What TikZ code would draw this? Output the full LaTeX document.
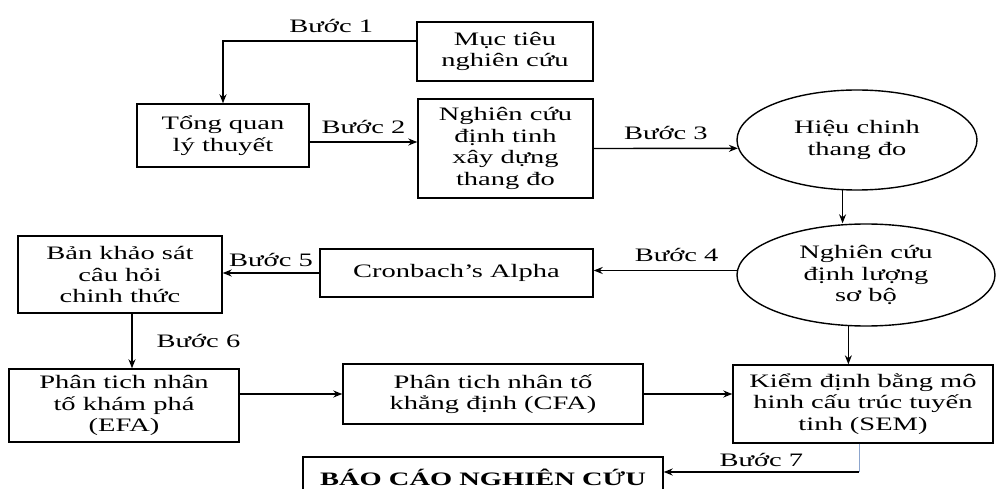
\documentclass[tikz,border=0pt]{standalone}
\usepackage{fontspec}
\setmainfont{Liberation Serif}[FakeStretch=1.5]
\usetikzlibrary{shapes.geometric,arrows.meta}

\begin{document}
\begin{tikzpicture}[x=1pt,y=-1pt,>={Stealth[length=9pt,width=7pt]},line width=1.4pt,
  txt/.style={font=\fontsize{19}{21.5}\selectfont},
  box/.style={rectangle,draw,align=center,inner sep=1pt,txt},
  oval/.style={ellipse,draw,align=center,inner sep=1pt,txt},
  buoc/.style={txt,inner sep=2pt},
  blueline/.style={draw={rgb,255:red,140;green,165;blue,205},line width=1pt}]
  \useasboundingbox (0,0) rectangle (997,489);
  \clip (0,0) rectangle (997,489);
  % boxes and ovals
  \node[box,minimum width=176pt,minimum height=59pt] (muc) at (505,51.5) {Mục tiêu\\nghiên cứu};
  \node[box,minimum width=172pt,minimum height=63pt] (tong) at (223,135.5) {Tổng quan\\lý thuyết};
  \node[box,minimum width=175pt,minimum height=99pt] (nc) at (505.5,148.5) {Nghiên cứu\\định tinh\\xây dựng\\thang đo};
  \node[oval,minimum width=240pt,minimum height=100pt] (hieu) at (857,140) {Hiệu chinh\\thang đo};
  \node[oval,minimum width=258pt,minimum height=102pt] (dl) at (866,275) {Nghiên cứu\\định lượng\\sơ bộ};
  \node[box,minimum width=273pt,minimum height=48pt] (cron) at (456.5,273) {Cronbach’s Alpha};
  \node[box,minimum width=204pt,minimum height=77pt] (ban) at (120,274.5) {Bản khảo sát\\câu hỏi\\chinh thức};
  \node[box,minimum width=230pt,minimum height=73pt] (efa) at (124,405.5) {Phân tich nhân\\tố khám phá\\(EFA)};
  \node[box,minimum width=300pt,minimum height=60pt] (cfa) at (493,394) {Phân tich nhân tố\\khẳng định (CFA)};
  \node[box,minimum width=260pt,minimum height=78pt] (sem) at (863,404) {Kiểm định bằng mô\\hinh cấu trúc tuyến\\tinh (SEM)};
  \node[box,minimum width=360pt,minimum height=40pt,font=\fontsize{19}{22}\selectfont\bfseries] (bao) at (483,477) {BÁO CÁO NGHIÊN CỨU};
  % steps
  \draw[->] ([yshift=10.5pt]muc.west) -| (tong.north) node[buoc,pos=0.22,above=6pt] {Bước 1};
  \draw[->] ([yshift=-6.5pt]tong.east) -- ([yshift=-6.5pt]tong.east -| nc.west) node[buoc,midway,above=6pt] {Bước 2};
  \draw[->] (nc.east) -- (hieu.184) node[buoc,midway,above=6pt] {Bước 3};
  \draw[->] (hieu.254) -- (hieu.254 |- dl.north);
  \draw[->] (dl.178) -- (dl.178 -| cron.east) node[buoc,pos=0.42,above=6pt] {Bước 4};
  \draw[->] (cron.west) -- (cron.west -| ban.east) node[buoc,midway,above=4pt] {Bước 5};
  \draw[->] ([xshift=12pt]ban.south) -- ([xshift=12pt]ban.south |- efa.north) node[buoc,midway,right=22pt] {Bước 6};
  \draw[->] (cfa.west -| efa.east) -- (cfa.west);
  \draw[->] (cfa.east) -- (cfa.east -| sem.west);
  \draw[->] (dl.251) -- (dl.251 |- sem.north);
  \coordinate (c7) at (859,472);
  \draw[blueline] (c7 |- sem.south) -- (c7);
  \draw[->] (c7) -- (c7 -| bao.east) node[buoc,midway,above=3pt] {Bước 7};
\end{tikzpicture}
\end{document}
